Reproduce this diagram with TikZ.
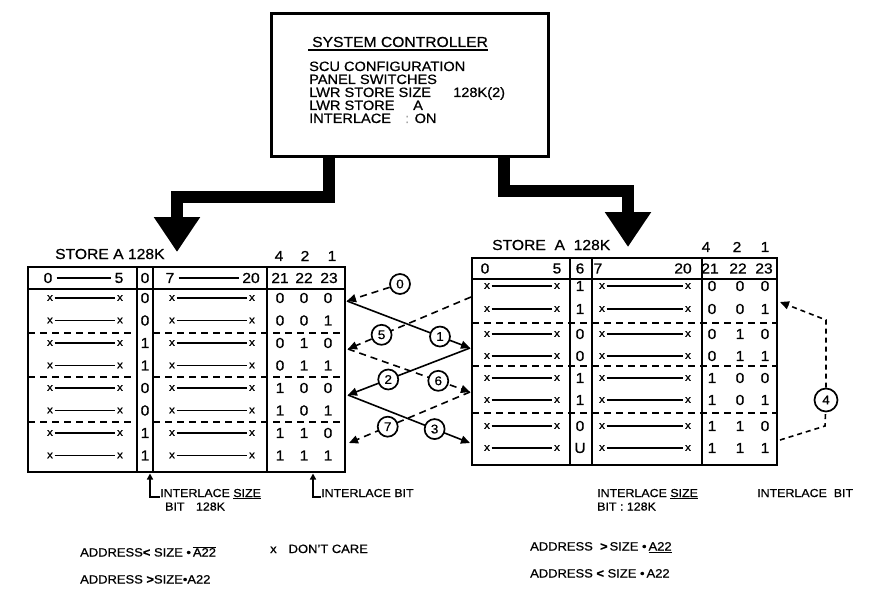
\documentclass[tikz,border=0pt]{standalone}
\usepackage{fontspec}
\setmainfont{Liberation Sans}[FakeStretch=1.08, FakeBold=0.7]
\usetikzlibrary{arrows.meta}

\newcommand{\bigtxt}{\fontsize{14.5}{12.5}\selectfont}
\newcommand{\cfgtxt}{\fontsize{13.5}{13}\selectfont}
\newcommand{\smalltxt}{\fontsize{11.5}{13}\selectfont}
\newcommand{\addrtxt}{\fontsize{12}{13}\selectfont}

\begin{document}
\begin{tikzpicture}[x=1pt, y=-1pt,
    every node/.style={font=\bigtxt, inner sep=0pt},
    frame/.style={line width=2.8pt},
    cell/.style={line width=2.4pt},
    sep/.style={line width=1.8pt, dash pattern=on 7pt off 5pt},
    span/.style={line width=1.1pt},
    dc/.style={font=\fontsize{11}{11}\selectfont, inner sep=1.5pt},
    cfgline/.style={anchor=base west, font=\cfgtxt},
    num/.style={circle, draw, solid, fill=white, line width=1.7pt, minimum size=20pt, font=\fontsize{12.5}{12}\selectfont},
    link/.style={line width=1.6pt, -{Triangle[length=9pt,width=8pt]}},
    dlink/.style={link, dash pattern=on 7pt off 5pt},
    pointer/.style={line width=1.6pt, {Triangle[length=6pt,width=6pt]}-},
    feed/.style={line width=12pt, line join=miter, -{Triangle[length=35pt,width=44pt]}}]
  \useasboundingbox (0,0) rectangle (876,591);

  % system controller
  \node[draw, frame, minimum width=277pt, minimum height=143pt, anchor=north west] (ctrl) at (270,12) {};
  \node[anchor=base west] (title) at (312,47) {SYSTEM CONTROLLER};
  \draw[line width=1.3pt] ([shift={(-4pt,-3pt)}]title.base west) -- ([yshift=-3pt]title.base east);
  \node[cfgline] (cfg) at (309,71) {SCU CONFIGURATION};
  \node[cfgline] (pnl) at (309,84) {PANEL SWITCHES};
  \node[cfgline] (lsize) at (309,97) {LWR STORE SIZE};
  \node[cfgline] (lsizev) at (453,97) {128K(2)};
  \node[cfgline] (lwr) at (309,110) {LWR STORE};
  \node[cfgline] (lwrv) at (413,110) {A};
  \node[cfgline] (ilv) at (309,123) {INTERLACE};
  \node[cfgline] (ilvv) at (405,123) {{\color{black!35}:} ON};

  % feeds to the stores
  \coordinate (ltap) at (329,155);
  \coordinate (rtap) at (504,155);
  \coordinate (lin) at (177,252);
  \coordinate (rin) at (628,247);
  \draw[feed] (ltap) |- (177,197) -- (lin);
  \draw[feed] (rtap) |- (628,191) -- (rin);

  % left store
  \node[anchor=base west] (lname) at (55,259) {STORE A 128K};
  \node at (279,256) {4};
  \node at (305,256) {2};
  \node at (332,256) {1};
  \draw[frame] (28,267) rectangle (345,472);
  \draw[frame] (28,289) -- (345,289);
  \foreach \x in {137,153,267} \draw[cell] (\x,267) -- (\x,472);
  \foreach \y in {333,377,422} {
    \draw[sep] (28,\y) -- (137,\y);
    \draw[sep] (153,\y) -- (345,\y);
  }
  \node (lh0) at (48,278) {0};
  \node (lh5) at (119,278) {5};
  \draw[span, shorten <=4pt, shorten >=3pt] (lh0) -- (lh5);
  \node (lh6) at (145,278) {0};
  \node (lh7) at (170,278) {7};
  \node (lh20) at (251,278) {20};
  \draw[span, shorten <=4pt, shorten >=3pt] (lh7) -- (lh20);
  \node at (280,278) {21};
  \node at (304,278) {22};
  \node at (329,278) {23};
  \foreach \y/\s/\p/\q/\r [count=\i] in {298/0/0/0/0, 320.5/0/0/0/1, 343/1/0/1/0, 365.5/1/0/1/1,
      388/0/1/0/0, 410.5/0/1/0/1, 433/1/1/1/0, 455.5/1/1/1/1} {
    \node[dc] (la\i) at (50,\y) {x};
    \node[dc] (lb\i) at (120,\y) {x};
    \draw[span] (la\i) -- (lb\i);
    \node (ls\i) at (145,\y) {\s};
    \node[dc] (lc\i) at (172,\y) {x};
    \node[dc] (ld\i) at (252,\y) {x};
    \draw[span] (lc\i) -- (ld\i);
    \node at (280,\y) {\p};
    \node at (304,\y) {\q};
    \node at (328,\y) {\r};
  }

  % right store
  \node[anchor=base west] (rname) at (492,250) {STORE\ \ A\ \ 128K};
  \node at (706,247) {4};
  \node at (737,247) {2};
  \node at (765,247) {1};
  \draw[frame] (472,258) rectangle (777,465);
  \draw[frame] (472,279) -- (777,279);
  \foreach \x in {570,592,702} \draw[cell] (\x,258) -- (\x,465);
  \foreach \y in {323,366,413} \draw[sep] (472,\y) -- (777,\y);
  \node at (485,268.5) {0};
  \node at (557,268.5) {5};
  \node at (580,268.5) {6};
  \node at (598,268.5) {7};
  \node at (683,268.5) {20};
  \node at (710,268.5) {21};
  \node at (738,268.5) {22};
  \node at (764,268.5) {23};
  \foreach \y/\s/\p/\q/\r [count=\i] in {286/1/0/0/0, 309/1/0/0/1, 334/0/0/1/0, 356/0/0/1/1,
      378/1/1/0/0, 400/1/1/0/1, 426/0/1/1/0, 448/U/1/1/1} {
    \node[dc] (ra\i) at (487,\y) {x};
    \node[dc] (rb\i) at (557,\y) {x};
    \draw[span] (ra\i) -- (rb\i);
    \node (rs\i) at (580,\y) {\s};
    \node[dc] (rc\i) at (602,\y) {x};
    \node[dc] (rd\i) at (688,\y) {x};
    \draw[span] (rc\i) -- (rd\i);
    \node at (712,\y) {\p};
    \node at (740,\y) {\q};
    \node at (765,\y) {\r};
  }

  % address sequence between the stores
  \coordinate (L0) at (347,301);
  \coordinate (L1) at (348,349);
  \coordinate (L2) at (348,395);
  \coordinate (L3) at (349,443);
  \coordinate (R0) at (471,297);
  \coordinate (R1) at (470,348);
  \coordinate (R2) at (470,392);
  \coordinate (R3) at (470,443);
  \node[num] (c0) at (400,284) {0};
  \draw[dlink] (c0) -- (L0);
  \draw[link] (L0) -- node[num, pos=0.756] (c1) {1} (R1);
  \draw[link] (R1) -- node[num, pos=0.67] (c2) {2} (L2);
  \draw[link] (L2) -- node[num, pos=0.71] (c3) {3} (R3);
  \draw[dlink] (R0) -- node[num, pos=0.727] (c5) {5} (L1);
  \draw[dlink] (L1) -- node[num, pos=0.74] (c6) {6} (R2);
  \draw[dlink] (R2) -- node[num, pos=0.68] (c7) {7} (L3);

  % wrap back to the upper store half
  \coordinate (R4a) at (780,440);
  \coordinate (k4a) at (825,426);
  \node[num, minimum size=23pt] (c4) at (826,400) {4};
  \coordinate (k4b) at (826,320);
  \coordinate (R4b) at (780,302);
  \draw[line width=1.6pt, dash pattern=on 5pt off 4pt] (R4a) -- (k4a) -- (c4);
  \draw[dlink, dash pattern=on 5pt off 4pt] (c4) -- (k4b) -- (R4b);

  % interlace labels
  \coordinate (lsb) at (150,473.5);
  \coordinate (lib) at (313,473.5);
  \node[anchor=base west, font=\smalltxt] (lsz) at (160,497) {INTERLACE \underline{SIZE}};
  \node[anchor=base west, font=\smalltxt] (lsk) at (165,510.5) {BIT\quad 128K};
  \node[anchor=base west, font=\smalltxt] (lbit) at (321,497) {INTERLACE BIT};
  \draw[pointer] (lsb) |- (lsz.base west);
  \draw[pointer] (lib) |- (lbit.base west);
  \node[anchor=base west, font=\smalltxt] (rsz) at (597,497) {INTERLACE \underline{SIZE}};
  \node[anchor=base west, font=\smalltxt] (rsk) at (597,510.5) {BIT : 128K};
  \node[anchor=base west, font=\smalltxt] (rbit) at (757,497) {INTERLACE\ \ BIT};

  % address rules
  \node[anchor=base west, font=\addrtxt] (adl1) at (80,556.5) {ADDRESS\textbf{<} SIZE \textbullet\,$\overline{\mbox{A22}}$};
  \node[anchor=base west, font=\addrtxt] (adl2) at (80,583.5) {ADDRESS \textbf{>}SIZE\textbullet A22};
  \node[anchor=base west, font=\addrtxt] (dcx) at (270,553) {x\quad DON'T CARE};
  \node[anchor=base west, font=\addrtxt] (adr1) at (530,550.5) {ADDRESS \ \textbf{>}\,SIZE \textbullet\,\underline{A22}};
  \node[anchor=base west, font=\addrtxt] (adr2) at (530,577.5) {ADDRESS \textbf{<} SIZE \textbullet\,A22};
\end{tikzpicture}
\end{document}
